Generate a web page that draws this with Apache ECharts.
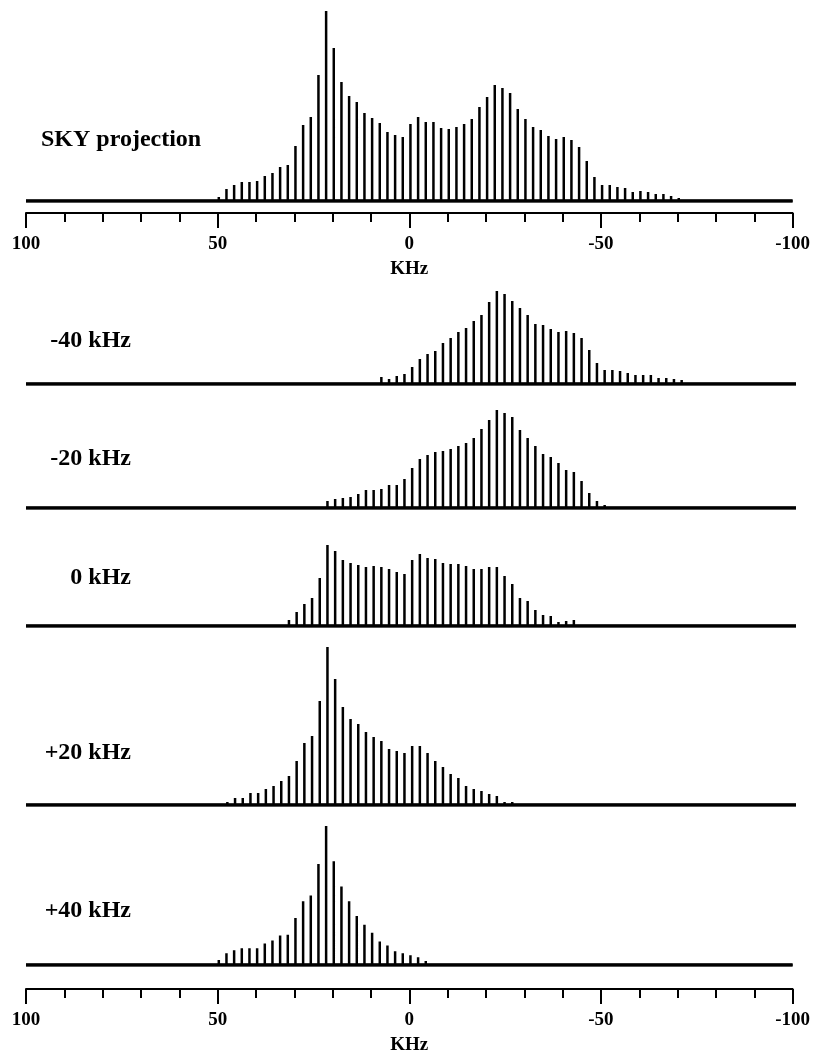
<!DOCTYPE html>
<html>
<head>
<meta charset="utf-8">
<script src="https://cdn.jsdelivr.net/npm/echarts@6/dist/echarts.min.js"></script>
<style>
  html, body { margin: 0; padding: 0; background: #fff; }
  #chart { width: 813px; height: 1056px; }
</style>
</head>
<body>
<div id="chart"></div>
<script>
  // sideband positions (kHz)
  const sidebandKHz = [49.7, 47.7, 45.7, 43.7, 41.7, 39.7, 37.7, 35.7, 33.7, 31.7,
    29.7, 27.7, 25.7, 23.7, 21.7, 19.7, 17.7, 15.7, 13.7, 11.7,
    9.7, 7.7, 5.7, 3.7, 1.7, -0.3, -2.3, -4.3, -6.3, -8.3,
    -10.3, -12.3, -14.3, -16.3, -18.3, -20.3, -22.3, -24.3, -26.3, -28.3,
    -30.3, -32.3, -34.3, -36.3, -38.3, -40.3, -42.3, -44.3, -46.3, -48.3,
    -50.3, -52.3, -54.3, -56.3, -58.3, -60.3, -62.3, -64.3, -66.3, -68.3,
    -70.3];

  // peak heights per trace (arbitrary units)
  const skyProjection = [4, 12, 16, 19, 19, 20, 25, 28, 34, 36,
    55, 76, 84, 126, 190, 153, 119, 105, 99, 88,
    83, 78, 69, 66, 64, 77, 84, 79, 79, 73,
    72, 74, 77, 82, 94, 104, 116, 113, 108, 92,
    82, 74, 71, 65, 62, 64, 61, 54, 40, 24,
    16, 16, 14, 13, 9, 10, 9, 7, 7, 5,
    3];
  const sliceMinus40 = [0, 0, 0, 0, 0, 0, 0, 0, 0, 0,
    0, 0, 0, 0, 0, 0, 0, 0, 0, 2,
    0, 7, 5, 8, 10, 17, 25, 30, 33, 41,
    46, 52, 56, 63, 69, 82, 93, 90, 83, 76,
    69, 60, 59, 55, 52, 53, 51, 46, 34, 21,
    14, 14, 13, 11, 9, 9, 9, 6, 6, 5,
    4];
  const sliceMinus20 = [0, 0, 0, 0, 0, 0, 0, 0, 0, 0,
    0, 0, 0, 2, 7, 9, 10, 11, 14, 18,
    18, 19, 23, 23, 29, 40, 49, 53, 56, 57,
    59, 62, 65, 70, 79, 88, 98, 95, 91, 78,
    70, 62, 54, 51, 45, 38, 36, 27, 15, 7,
    3, 0, 0, 0, 0, 0, 0, 0, 0, 0,
    0];
  const sliceZero = [0, 0, 0, 0, 0, 0, 0, 0, 2, 6,
    14, 22, 28, 48, 81, 75, 66, 63, 61, 59,
    60, 59, 57, 54, 52, 66, 72, 68, 67, 63,
    62, 62, 60, 57, 57, 59, 59, 50, 42, 28,
    25, 16, 11, 10, 4, 5, 6, 0, 0, 0,
    0, 0, 0, 0, 0, 0, 0, 0, 0, 0,
    0];
  const slicePlus20 = [0, 3, 7, 7, 12, 12, 16, 19, 24, 29,
    44, 62, 69, 104, 158, 126, 98, 86, 81, 73,
    68, 64, 56, 54, 52, 59, 59, 52, 44, 38,
    31, 27, 19, 16, 14, 11, 9, 3, 3, 0,
    0, 0, 0, 0, 0, 0, 0, 0, 0, 0,
    0, 0, 0, 0, 0, 0, 0, 0, 0, 0,
    0];
  const slicePlus40 = [5, 12, 15, 17, 17, 17, 22, 25, 30, 31,
    48, 65, 71, 103, 142, 106, 80, 65, 50, 41,
    33, 24, 20, 14, 12, 10, 8, 4, 0, 0,
    0, 0, 0, 0, 0, 0, 0, 0, 0, 0,
    0, 0, 0, 0, 0, 0, 0, 0, 0, 0,
    0, 0, 0, 0, 0, 0, 0, 0, 0, 0,
    0];

  const traceLabels = ['SKY projection', '-40 kHz', '-20 kHz', '0 kHz', '+20 kHz', '+40 kHz'];
  const traces = [skyProjection, sliceMinus40, sliceMinus20, sliceZero, slicePlus20, slicePlus40];
  const axisTicks = [100, 50, 0, -50, -100];

  // layout of each strip: baseline sits at top + height
  const panels = [
    { top: 6,   height: 195, axis: 12, lx: 41,  ly: 140, align: 'left' },
    { top: 284, height: 100, lx: 131, ly: 341, align: 'right' },
    { top: 403, height: 105, lx: 131, ly: 459, align: 'right' },
    { top: 540, height: 86,  lx: 131, ly: 578, align: 'right' },
    { top: 640, height: 165, lx: 131, ly: 753, align: 'right' },
    { top: 820, height: 148, axis: 24, lx: 131, ly: 911, align: 'right' }
  ];

  const serif = '"Liberation Serif", "Times New Roman", serif';

  // stick spectrum: go up and down at every sideband
  function sticks(heights) {
    const pts = [[axisTicks[0], 0]];
    heights.forEach((h, i) => {
      if (h > 0) {
        const x = sidebandKHz[i];
        pts.push([x, 0], [x, h], [x, 0]);
      }
    });
    pts.push([axisTicks[axisTicks.length - 1], 0]);
    return pts;
  }

  const chart = echarts.init(document.getElementById('chart'));

  const grid = [], xAxis = [], yAxis = [], series = [], graphic = [];

  panels.forEach((p, i) => {
    grid.push({ left: 26, right: 17, top: p.top, height: p.height });
    const showAxis = p.axis !== undefined;
    xAxis.push({
      gridIndex: i,
      type: 'value',
      inverse: true,
      min: -100,
      max: 100,
      interval: 50,
      show: showAxis,
      position: 'bottom',
      offset: p.axis || 0,
      name: 'KHz',
      nameLocation: 'middle',
      nameGap: 47,
      nameTextStyle: { color: '#000', fontFamily: serif, fontWeight: 'bold', fontSize: 19 },
      axisLine: { show: true, onZero: false, lineStyle: { color: '#000', width: 2 } },
      axisTick: { show: true, length: 15, lineStyle: { color: '#000', width: 2 } },
      minorTick: { show: true, splitNumber: 5, length: 9, lineStyle: { color: '#000', width: 2 } },
      splitLine: { show: false },
      axisLabel: {
        color: '#000', fontFamily: serif, fontWeight: 'bold', fontSize: 19, margin: 22,
        showMinLabel: true, showMaxLabel: true
      }
    });
    yAxis.push({ gridIndex: i, type: 'value', min: 0, max: p.height, show: false });

    series.push({
      type: 'line',
      xAxisIndex: i,
      yAxisIndex: i,
      data: sticks(traces[i]),
      showSymbol: false,
      silent: true,
      clip: false,
      lineStyle: { color: '#000', width: 2.5 }
    });
    // heavier baseline standing in for the noise band
    series.push({
      type: 'line',
      xAxisIndex: i,
      yAxisIndex: i,
      data: [[axisTicks[0], 0], [axisTicks[axisTicks.length - 1], 0]],
      showSymbol: false,
      silent: true,
      lineStyle: { color: '#000', width: 3.4 }
    });

    graphic.push({
      type: 'text',
      x: p.lx,
      y: p.ly,
      style: {
        text: traceLabels[i],
        font: 'bold 24px ' + serif,
        fill: '#000',
        textAlign: p.align,
        textVerticalAlign: 'middle'
      }
    });
  });

  chart.setOption({
    animation: false,
    backgroundColor: '#fff',
    grid: grid,
    xAxis: xAxis,
    yAxis: yAxis,
    series: series,
    graphic: graphic
  });
</script>
</body>
</html>
